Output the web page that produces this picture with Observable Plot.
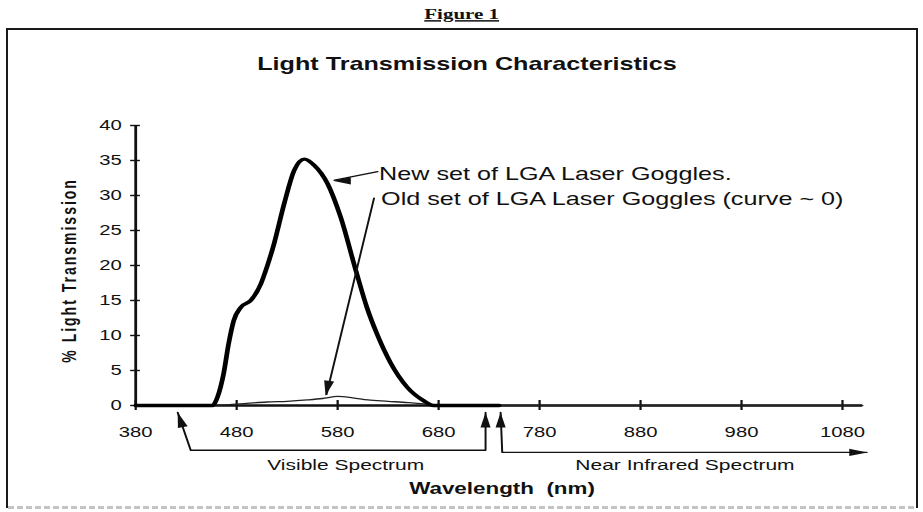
<!DOCTYPE html>
<html>
<head>
<meta charset="utf-8">
<script src="https://cdn.jsdelivr.net/npm/d3@7"></script>
<script src="https://cdn.jsdelivr.net/npm/@observablehq/plot@0.6"></script>
<style>
  html, body { margin: 0; padding: 0; background: #fff; }
  #wrap { position: relative; width: 923px; height: 512px; overflow: hidden; background: #fff; }
  #box { position: absolute; left: 6px; top: 28px; width: 908px; height: 478px; border: 2px solid #1a1a1a; border-bottom: none; }
  #foot { position: absolute; left: 8px; top: 506px; width: 906px; border-top: 3px dashed #c4c4c4; }
  #chart { position: absolute; left: 0; top: 0; transform: scaleX(1.4); transform-origin: 0 0; }
</style>
</head>
<body>
<div id="wrap">
  <div id="box"></div>
  <div id="foot"></div>
  <div id="chart"></div>
</div>
<script>
// ---- data ----
const newWavelength = [380, 430, 456, 461, 467, 472, 477, 484, 494, 504, 510, 517, 527, 537, 547, 557, 570, 583, 598, 609, 619, 632, 649, 665, 675, 700, 740];
const newTransmission = [0, 0, 0, 1.2, 4.5, 8.8, 12.1, 14, 15, 17.4, 19.8, 23.1, 28.8, 33.6, 35.2, 34.3, 31.7, 26.9, 19.3, 14.0, 10.2, 6.2, 2.6, 0.7, 0, 0, 0];

const oldWavelength = [380, 440, 470, 490, 510, 530, 550, 565, 580, 595, 610, 630, 650, 670, 690, 1100];
const oldTransmission = [0, 0, 0.1, 0.3, 0.5, 0.6, 0.8, 1.0, 1.3, 1.1, 0.8, 0.6, 0.4, 0.15, 0, 0];

const xTicks = [380, 480, 580, 680, 780, 880, 980, 1080];
const yTicks = [0, 5, 10, 15, 20, 25, 30, 35, 40];

const figureLabel = "Figure 1";
const titleText = "Light Transmission Characteristics";
const xLabel = "Wavelength  (nm)";
const yLabel = "% Light Transmission";

// annotations (in data units: nm, %)
const noteText = ["New set of LGA Laser Goggles.", "Old set of LGA Laser Goggles (curve ~ 0)", "Visible Spectrum", "Near Infrared Spectrum"];
const noteX = [621, 623, 588, 924];
const noteY = [33.1, 29.4, -8.6, -8.6];

const newPointerX = [619.6, 577];
const newPointerY = [33.4, 32.2];
const oldPointerX = [616, 569];
const oldPointerY = [29.6, 1.6];
const visibleBracketX = [421.6, 434.5, 726.5, 726.5];
const visibleBracketY = [-1, -6.4, -6.4, -1];
const nirBracketX = [741.4, 743, 1104];
const nirBracketY = [-1, -6.7, -6.7];

const headUpX = [568, 421.6, 726.5, 741.4];
const headUpY = [1.4, -1, -1, -1];
const headUpAngle = [190, -14, 0, 0];
const headSideX = [575, 1104.7];
const headSideY = [32.1, -6.7];
const headSideAngle = [-90, 90];

// ---- build tables ----
const zip = (xs, ys) => xs.map((x, i) => ({x, y: ys[i]}));
const newData = zip(newWavelength, newTransmission);
const oldData = zip(oldWavelength, oldTransmission);
const notes = noteText.map((t, i) => ({t, x: noteX[i], y: noteY[i]}));
const headsUp = headUpX.map((x, i) => ({x, y: headUpY[i], a: headUpAngle[i]}));
const headsSide = headSideX.map((x, i) => ({x, y: headSideY[i], a: headSideAngle[i]}));
const pointers = [
  ...zip(newPointerX, newPointerY).map(d => ({...d, k: "new"})),
  ...zip(oldPointerX, oldPointerY).map(d => ({...d, k: "old"})),
  ...zip(visibleBracketX, visibleBracketY).map(d => ({...d, k: "vis"})),
  ...zip(nirBracketX, nirBracketY).map(d => ({...d, k: "nir"}))
];

const headUp = { draw(ctx) { ctx.moveTo(0, 0); ctx.lineTo(3.6, 15); ctx.lineTo(-3.6, 15); ctx.closePath(); } };
const headSide = { draw(ctx) { ctx.moveTo(0, 0); ctx.lineTo(3.6, 13); ctx.lineTo(-3.6, 13); ctx.closePath(); } };

const S = 1.4;
const W = 923 / S;

const chart = Plot.plot({
  width: W,
  height: 512,
  marginLeft: 135 / S,
  marginRight: (923 - 862) / S,
  marginTop: 125,
  marginBottom: 107,
  x: {domain: [380, 1100]},
  y: {domain: [0, 40]},
  style: {fontFamily: "'Liberation Sans', Arial, sans-serif", fontSize: "14.5px", color: "#111", background: "transparent", overflow: "visible"},
  marks: [
    Plot.axisY({ticks: yTicks, tickSize: 7, dx: 3.5, tickFormat: () => "", label: null, strokeWidth: 1.4}),
    Plot.axisY({ticks: yTicks, tickSize: 0, tickPadding: 10, label: null, tickFormat: d => String(d)}),
    Plot.axisX({ticks: xTicks, tickSize: 10, dy: -5, tickFormat: () => "", label: null, strokeWidth: 1.6}),
    Plot.axisX({ticks: xTicks, tickSize: 0, tickPadding: 21, label: null, tickFormat: d => String(d)}),
    Plot.ruleX([380], {y1: 0, y2: 40, strokeWidth: 2, stroke: "#111"}),
    Plot.ruleY([0], {x1: 380, x2: 1100, strokeWidth: 2.6, stroke: "#111"}),
    Plot.line(oldData, {x: "x", y: "y", curve: "monotone-x", stroke: "#222", strokeWidth: 1.3}),
    Plot.line(newData, {x: "x", y: "y", curve: "monotone-x", stroke: "#000", strokeWidth: 3.4}),
    Plot.line(pointers, {x: "x", y: "y", z: "k", stroke: "#111", strokeWidth: 1.4}),
    Plot.dot(headsUp, {x: "x", y: "y", rotate: "a", symbol: headUp, r: 4, fill: "#111", stroke: "none"}),
    Plot.dot(headsSide, {x: "x", y: "y", rotate: "a", symbol: headSide, r: 4, fill: "#111", stroke: "none"}),
    Plot.text(notes.slice(0, 2), {x: "x", y: "y", text: "t", textAnchor: "start", lineAnchor: "middle", fontSize: 18, fill: "#111"}),
    Plot.text(notes.slice(2), {x: "x", y: "y", text: "t", textAnchor: "middle", lineAnchor: "middle", fontSize: 15, fill: "#111"}),
    Plot.text([xLabel], {text: d => d, frameAnchor: "bottom", dx: 2, dy: 83, lineAnchor: "middle", fontWeight: "bold", fontSize: 16, fill: "#111"}),
    Plot.text([yLabel], {text: d => d, x: () => 314.7, y: () => 19.3, rotate: -90, lineAnchor: "middle", textAnchor: "middle", fontWeight: "bold", fontSize: 14, fill: "#111"}),
    Plot.text([titleText], {text: d => d, frameAnchor: "top", dx: -23, dy: -61, lineAnchor: "middle", fontWeight: "bold", fontSize: 18, fill: "#111"}),
    Plot.text([figureLabel], {text: d => d, frameAnchor: "top", dx: -26.8, dy: -111, lineAnchor: "middle", fontFamily: "'Liberation Serif', serif", fontWeight: "bold", fontSize: 15, fill: "#111"})
  ]
});

d3.select(chart).selectAll("text").each(function () {
  const t = this.textContent;
  if (t === figureLabel) d3.select(this).style("text-decoration", "underline");
  if (t === yLabel) d3.select(this).attr("letter-spacing", "2px");
});

document.getElementById("chart").appendChild(chart);
</script>
</body>
</html>
